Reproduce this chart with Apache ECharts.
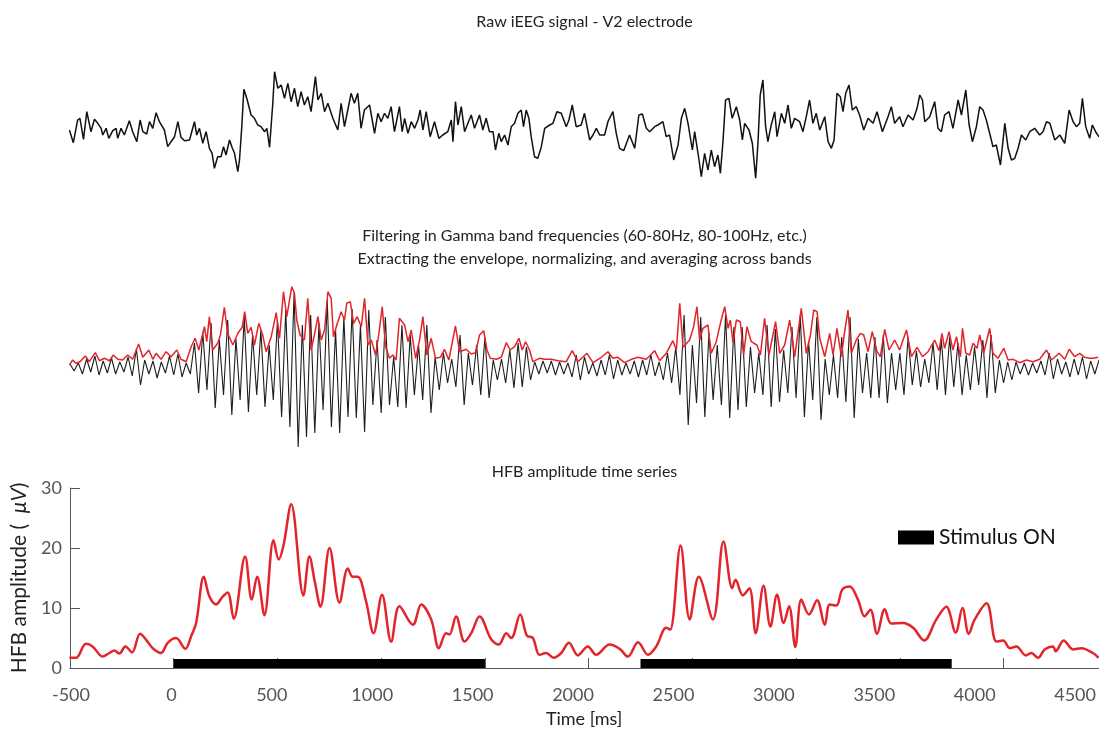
<!DOCTYPE html>
<html>
<head>
<meta charset="utf-8">
<script src="https://cdn.jsdelivr.net/npm/echarts@6/dist/echarts.min.js"></script>
<style>
  html, body { margin: 0; padding: 0; background: #fff; }
  #chart { width: 1099px; height: 737px; }
</style>
</head>
<body>
<div id="chart"></div>
<script>
// raw iEEG trace, [time ms, amplitude]
const rawSignal = [
  [-503,0],[-484,-12.7],[-463,10],[-452,11.7],[-435,-9.3],[-419,18.3],[-399,-1.7],[-382,10.7],[-366,6.7],[-350,1.7],
  [-342,-5],[-326,1.7],[-313,-8.3],[-294,-0.7],[-278,1.7],[-270,-8.3],[-254,1.7],[-238,-5],[-214,9.3],[-198,-1.7],
  [-178,-11.7],[-162,10],[-149,-1.7],[-130,-4],[-117,8.3],[-101,1.7],[-85,17.3],[-69,8.3],[-45,0],[-29,-16.7],
  [-13,-11.7],[4,-6.7],[20,8.3],[35,-7.3],[52,-10.7],[76,-10],[100,8.3],[111,-5],[124,1.7],[140,-13.3],
  [156,-1.7],[172,-18.3],[185,-23.3],[196,-38.3],[212,-26.7],[228,-26.7],[240,-16.7],[252,-25],[269,-10],[281,-17.3],
  [293,-23.3],[309,-41.7],[317,-30],[328,3.3],[338,40.7],[352,31.7],[373,15],[389,11.7],[405,5],[421,3.3],
  [438,-1.7],[449,1.7],[462,-17.3],[478,28.3],[486,58.3],[502,41.7],[518,45],[534,31.7],[550,46.7],[566,28.3],
  [582,41.7],[598,23.3],[614,38.3],[630,25],[646,33.3],[662,18.3],[683,53.3],[695,30],[711,36.7],[727,18.3],
  [743,26.7],[767,11.7],[791,0],[807,26.7],[823,3.3],[839,20],[855,36.7],[871,26.7],[887,36.7],[903,1.7],
  [919,20],[944,25],[968,-3.3],[984,16.7],[1000,8.3],[1016,16.7],[1032,11.7],[1048,23.3],[1064,-1.7],[1088,23.3],
  [1101,-1.7],[1113,11.7],[1129,-3.3],[1145,8.3],[1161,1.7],[1177,10],[1188,20],[1201,0],[1217,18.3],[1236,-6.7],
  [1257,8.3],[1278,-8.3],[1297,-5],[1321,-1.7],[1338,10],[1346,-11.7],[1358,28.3],[1370,5],[1386,23.3],[1402,-1.7],
  [1418,6.7],[1434,15],[1450,1.7],[1474,15],[1490,0],[1506,11.7],[1522,-1.7],[1539,-1.7],[1551,-20],[1567,-3.3],
  [1579,-11.7],[1595,-5],[1611,-15],[1627,3.3],[1643,6.7],[1659,16.7],[1675,20],[1686,3.3],[1699,20],[1712,11.7],
  [1723,-6.7],[1739,-26.7],[1755,-28.3],[1772,-16.7],[1788,1.7],[1812,5],[1828,6.7],[1847,18.3],[1868,16.7],[1892,3.3],
  [1905,10],[1921,25],[1940,3.3],[1964,5],[1980,16.7],[2005,-10],[2021,-5],[2037,1.7],[2053,-5],[2077,-5],
  [2093,8.3],[2117,18.3],[2133,-3.3],[2149,-18.3],[2169,-20.7],[2197,-5],[2222,-18.3],[2242,15],[2259,16],[2278,1.7],
  [2294,-1.7],[2318,3.3],[2334,5],[2358,8.3],[2374,-6.7],[2390,-5],[2410,-30],[2431,-15],[2447,11.7],[2463,21.7],
  [2479,6.7],[2500,-20],[2511,-1.7],[2532,-30],[2543,-46.7],[2559,-23.3],[2575,-40],[2591,-20],[2607,-36.7],[2623,-25],
  [2635,-43.3],[2648,-10],[2660,30],[2676,31.7],[2692,11.7],[2712,23.3],[2728,10],[2741,-10],[2752,6.7],[2773,0],
  [2789,-13.3],[2805,-48.3],[2816,-13.3],[2827,35],[2840,50],[2853,3.3],[2864,-11.7],[2880,5],[2897,18.3],[2908,-6.7],
  [2929,16.7],[2945,6.7],[2961,25],[2977,1.7],[2993,11.7],[3017,8.3],[3033,-1.7],[3049,13.3],[3065,30],[3081,6.7],
  [3097,16.7],[3114,0],[3138,13.3],[3154,-11.7],[3170,-18.3],[3183,-10],[3197,36.7],[3213,33.3],[3226,18.3],[3239,36.7],
  [3255,45],[3271,20],[3290,23.3],[3306,15],[3326,0],[3347,11.7],[3371,6.7],[3390,18.3],[3416,-1.7],[3443,13.3],
  [3459,23.3],[3475,6.7],[3499,13.3],[3515,3.3],[3540,15],[3564,10],[3583,21.7],[3596,35],[3609,30],[3620,8.3],
  [3644,13.3],[3668,28.3],[3684,1.7],[3700,-1.7],[3716,15],[3737,18.3],[3756,1.7],[3781,30],[3797,15],[3818,40],
  [3834,5],[3850,-11.7],[3869,3.3],[3885,23.3],[3901,20],[3917,10],[3933,-3.3],[3949,-16.7],[3965,-15],[3985,-35],
  [4006,6.7],[4022,-18.3],[4038,-30],[4054,-28.3],[4070,-18.3],[4086,-5],[4107,-10],[4126,-1.7],[4150,1.7],[4174,-5],
  [4190,-1.7],[4207,8.3],[4223,6.7],[4247,-10],[4271,-5],[4295,-13.3],[4316,20],[4335,8.3],[4351,3.3],[4367,6.7],
  [4380,31.7],[4396,3.3],[4415,-8.3],[4428,5],[4448,-3.3],[4460,-6.7]
];

// gamma-band envelope (red), [time ms, amplitude]
const gammaEnvelope = [
  [-503,0],[-487,5],[-471,1.7],[-452,3.3],[-426,9],[-407,3.3],[-378,12.3],[-358,4.3],[-334,6.7],[-310,4.3],
  [-291,10],[-270,5.7],[-246,5],[-222,10],[-198,5.7],[-169,21],[-149,7.7],[-120,15],[-101,5.7],[-85,11.7],
  [-61,5.7],[-37,13.3],[-13,8.3],[15,15],[35,5.7],[60,3.3],[84,18.3],[103,26.7],[121,15],[148,38.3],
  [159,23.3],[172,48.3],[188,15],[212,21.7],[225,30],[244,57.7],[260,31.7],[285,20],[309,31.7],[330,37.7],
  [342,53.3],[357,31.7],[373,37.7],[389,20],[410,41.7],[429,30],[445,13.3],[470,28.3],[494,52.3],[510,26.7],
  [529,73.3],[545,48.3],[569,78.3],[582,71.7],[593,45],[609,30],[630,25],[646,66.7],[662,15],[678,30],
  [695,48.3],[711,25],[727,35],[743,73.3],[759,66.7],[770,28.3],[786,40],[807,53.3],[823,45],[834,61.7],
  [851,63.3],[867,41.7],[884,48.3],[904,38.3],[920,66.7],[936,20],[952,25],[973,10],[989,31.7],[1005,58.3],
  [1021,18.3],[1040,6.7],[1056,10],[1072,5],[1088,46.7],[1113,40],[1129,23.3],[1145,35],[1166,6.7],[1185,25],
  [1201,48.3],[1220,10],[1241,26.7],[1262,6.7],[1285,7.7],[1305,15.7],[1326,5],[1358,39],[1378,13.3],[1410,15.7],
  [1434,11],[1455,12.3],[1474,30],[1494,34.3],[1510,15],[1526,6.7],[1555,5.7],[1579,7.7],[1603,22.3],[1622,15],
  [1643,18.3],[1664,26.7],[1680,15],[1696,23.3],[1715,15],[1731,3.3],[1763,6.7],[1788,5.7],[1820,5.7],[1852,4.3],
  [1892,3.3],[1921,14.3],[1948,3.3],[1992,11.7],[2021,2.3],[2061,7.7],[2093,13.3],[2117,6.7],[2141,7.7],[2173,2.3],
  [2206,5.7],[2238,7.7],[2278,5.7],[2318,14.3],[2342,4.3],[2374,11.7],[2406,24.3],[2423,15],[2439,61.7],[2455,17.7],
  [2487,25],[2506,38.3],[2522,58.3],[2535,25],[2551,36.7],[2575,40],[2591,11.7],[2615,23.3],[2635,41.7],[2656,58.3],
  [2672,36.7],[2683,45],[2696,22.3],[2712,45],[2731,43.3],[2747,10],[2763,38.3],[2784,23.3],[2811,20],[2828,10],
  [2848,46.7],[2869,10],[2901,43.3],[2921,11.7],[2945,20],[2969,45],[2993,8.3],[3025,56.7],[3049,11.7],[3069,30],
  [3085,55],[3101,53.3],[3114,26.7],[3138,8.3],[3162,31.7],[3178,10],[3197,36.7],[3218,8.3],[3234,33.3],[3250,55],
  [3266,11.7],[3290,25],[3310,31.7],[3326,30],[3347,13.3],[3367,33.3],[3390,13.3],[3406,8.3],[3427,35.7],[3448,15],
  [3475,25],[3499,15],[3532,35],[3556,8.3],[3583,17.7],[3609,8.3],[3636,13.3],[3668,25],[3689,14.3],[3703,31.7],
  [3716,16.7],[3737,33.3],[3756,15],[3773,28.3],[3792,8.3],[3802,36.7],[3818,11.7],[3837,10],[3853,21.7],[3872,16.7],
  [3885,30],[3904,11.7],[3933,36.7],[3949,11.7],[3973,6.7],[4001,16.7],[4022,5],[4046,5.7],[4078,2.3],[4110,5],
  [4142,3.3],[4174,5.7],[4207,15],[4231,5],[4268,11.7],[4295,5.7],[4316,15.7],[4343,8.3],[4367,11.7],[4391,7.7],
  [4415,6.7],[4431,6.7],[4456,7.7]
];

// filtered gamma oscillation: upper / lower swing every 40 ms from -500 ms
const gammaStart = -500;
const gammaStep = 40;
const gammaUpper = [
  1,2,6,9,4,7,3,8,16,5, 4,3,9,11,2,22,33,42,25,45,
  26,48,30,35,20,45,55,72,40,50, 42,65,35,48,56,40,55,25,48,8,
  40,30,20,40,8,12,6,30,12,20, 28,5,6,15,22,18,3,4,4,3,
  2,10,8,2,5,10,5,2,4,5, 10,3,12,18,50,20,48,32,20,50,
  38,38,18,12,40,36,15,38,50,24, 48,6,10,28,48,26,12,28,30,12,
  12,28,14,6,22,26,28,22,10,18, 25,30,5,3,3,2,2,4,12,6,
  3,6,8,4,5
];
const gammaLower = [
  -6,-9,-7,-10,-8,-9,-7,-11,-20,-9, -13,-8,-10,-12,-9,-28,-25,-43,-30,-50,
  -35,-47,-30,-42,-35,-52,-62,-82,-72,-68, -45,-62,-68,-52,-53,-67,-40,-48,-40,-42,
  -43,-30,-35,-48,-25,-18,-22,-40,-20,-30, -33,-15,-18,-23,-22,-15,-9,-8,-10,-9,
  -12,-15,-9,-11,-10,-14,-10,-9,-12,-10, -11,-15,-18,-30,-60,-38,-52,-35,-40,-53,
  -45,-42,-28,-30,-42,-37,-28,-33,-52,-35, -55,-30,-33,-37,-53,-28,-33,-33,-38,-25,
  -30,-20,-22,-18,-25,-30,-22,-30,-25,-20, -33,-28,-18,-15,-9,-10,-8,-10,-14,-9,
  -12,-10,-14,-9,-8
];

// HFB amplitude (uV), [time ms, value]
const hfbAmplitude = [
  [-503,1.7],[-471,1.7],[-423,4.05],[-391,3.6],[-342,1.9],[-310,2.5],[-286,2.9],[-262,2.4],[-233,3.6],[-201,2.6],
  [-162,5.7],[-133,4.7],[-101,3.3],[-61,2.5],[-29,4.2],[11,5.0],[56,3.2],[84,5.3],[108,7.5],[145,15.2],
  [172,11.9],[204,10.6],[236,11.9],[260,12.6],[289,8.2],[344,18.6],[376,11.4],[402,15.2],[437,8.8],[481,21.3],
  [506,18.1],[529,20.4],[566,27.3],[625,12.1],[654,18.6],[681,14.2],[707,10.2],[751,20.0],[799,10.9],[839,16.6],
  [863,15.2],[887,15.2],[927,11.1],[963,5.8],[1004,12.2],[1048,4.4],[1088,10.3],[1153,7.2],[1193,10.6],[1241,8.1],
  [1278,3.3],[1313,5.8],[1329,5.6],[1361,8.6],[1402,4.4],[1434,5.8],[1474,8.6],[1530,4.8],[1567,3.9],[1603,5.8],
  [1627,5.0],[1670,8.9],[1702,5.4],[1731,5.0],[1763,2.2],[1795,2.5],[1831,1.7],[1868,2.5],[1905,4.2],[1948,2.1],
  [1996,3.6],[2036,2.2],[2101,3.9],[2149,3.2],[2189,1.9],[2238,4.3],[2286,2.2],[2326,3.6],[2374,6.7],[2393,6.4],
  [2443,20.4],[2487,8.1],[2531,15.2],[2599,8.1],[2650,21.1],[2692,13.3],[2708,14.7],[2743,12.1],[2775,13.3],[2805,5.8],
  [2843,13.7],[2876,6.9],[2908,12.2],[2940,7.5],[2966,10.3],[2996,3.5],[3025,11.4],[3062,8.9],[3101,11.3],[3138,7.2],
  [3162,10.6],[3194,10.4],[3223,13.1],[3258,13.6],[3298,11.4],[3330,8.6],[3358,9.7],[3390,5.7],[3427,9.8],[3459,7.4],
  [3515,7.5],[3564,6.7],[3617,4.6],[3676,8.1],[3724,10.2],[3769,5.9],[3802,10.0],[3832,5.7],[3861,8.1],[3918,10.8],
  [3966,4.4],[3998,4.6],[4030,3.3],[4062,3.6],[4107,2.1],[4134,2.5],[4166,1.7],[4198,3.1],[4238,3.6],[4251,2.8],
  [4290,4.6],[4335,3.1],[4375,3.3],[4431,2.5],[4458,1.7]
];

// stimulus on periods [start, end] in ms
const stimulusOn = [[0, 1500], [2250, 3750]];

const xTicks = [-500, 0, 500, 1000, 1500, 2000, 2500, 3000, 3500, 4000];
const xLabels = [-500, 0, 500, 1000, 1500, 2000, 2500, 3000, 3500, 4000, 4500];

const FONT = 'Lato';
const RED = '#e2242b';

const gammaZigzag = [];
gammaUpper.forEach((u, i) => {
  const t = gammaStart + i * gammaStep;
  gammaZigzag.push([t, u], [t + gammaStep / 2, gammaLower[i]]);
});

const hiddenX = (gi) => ({ gridIndex: gi, type: 'value', min: -500, max: 4460, show: false });

const chart = echarts.init(document.getElementById('chart'));

chart.setOption({
  animation: false,
  textStyle: { fontFamily: FONT },
  grid: [
    { left: 70, right: 0, top: 60, height: 130 },
    { left: 70, right: 0, top: 270, height: 190 },
    { left: 70, right: 0, top: 488, height: 180 },
    { left: 71, right: 0, top: 488, height: 180 },
  ],
  xAxis: [
    hiddenX(0),
    hiddenX(1),
    {
      gridIndex: 2, type: 'value', min: -500, max: 4460, interval: 500,
      axisLine: { show: true, onZero: false, lineStyle: { color: '#555', width: 1 } },
      axisTick: { show: true, inside: true, length: 10, customValues: xTicks, lineStyle: { color: '#555' } },
      axisLabel: { show: false },
      splitLine: { show: false },
    },
    {
      gridIndex: 3, type: 'value', min: -500, max: 4610, interval: 500,
      axisLine: { show: false }, axisTick: { show: false }, splitLine: { show: false },
      axisLabel: {
        customValues: xLabels, fontSize: 18, color: '#555', margin: 18, fontFamily: FONT,
        formatter: (v) => String(v),
      },
      name: 'Time [ms]', nameLocation: 'middle', nameGap: 42,
      nameTextStyle: { fontSize: 18, color: '#222', fontFamily: FONT },
    },
  ],
  yAxis: [
    { gridIndex: 0, type: 'value', min: -60, max: 70, show: false },
    { gridIndex: 1, type: 'value', min: -95, max: 95, show: false },
    {
      gridIndex: 2, type: 'value', min: 0, max: 30, interval: 10,
      axisLine: { show: true, onZero: false, lineStyle: { color: '#555', width: 1 } },
      axisTick: { show: true, inside: true, length: 10, lineStyle: { color: '#555' } },
      axisLabel: { fontSize: 18, color: '#555', margin: 8, fontFamily: FONT },
      splitLine: { show: false },
      name: 'HFB amplitude (  {i|μV})', nameLocation: 'middle', nameGap: 36,
      nameTextStyle: {
        fontSize: 21, color: '#222', fontFamily: FONT,
        rich: { i: { fontSize: 21, fontStyle: 'italic', color: '#222', fontFamily: FONT } },
      },
    },
    { gridIndex: 3, type: 'value', min: 0, max: 30, show: false },
  ],
  legend: {
    data: [{ name: 'Stimulus ON', icon: 'rect' }],
    left: 893, top: 522, itemWidth: 36, itemHeight: 14, itemGap: 8,
    textStyle: { fontSize: 21, color: '#111', fontFamily: FONT },
  },
  graphic: [
    { type: 'text', x: 584.5, y: 22, style: { text: 'Raw iEEG signal - V2 electrode', font: `16px ${FONT}`, fill: '#222', textAlign: 'center', textVerticalAlign: 'middle' } },
    { type: 'text', x: 584.5, y: 236, style: { text: 'Filtering in Gamma band frequencies (60-80Hz, 80-100Hz, etc.)', font: `16px ${FONT}`, fill: '#222', textAlign: 'center', textVerticalAlign: 'middle' } },
    { type: 'text', x: 584.5, y: 259, style: { text: 'Extracting the envelope, normalizing, and averaging across bands', font: `16px ${FONT}`, fill: '#222', textAlign: 'center', textVerticalAlign: 'middle' } },
    { type: 'text', x: 584.5, y: 472, style: { text: 'HFB amplitude time series', font: `16px ${FONT}`, fill: '#222', textAlign: 'center', textVerticalAlign: 'middle' } },
  ],
  series: [
    {
      name: 'Raw iEEG', type: 'line', xAxisIndex: 0, yAxisIndex: 0, data: rawSignal,
      showSymbol: false, lineStyle: { color: '#111', width: 1.5 }, silent: true,
    },
    {
      name: 'Gamma filtered', type: 'line', xAxisIndex: 1, yAxisIndex: 1, data: gammaZigzag,
      showSymbol: false, lineStyle: { color: '#1e1e1e', width: 1.1 }, silent: true,
    },
    {
      name: 'Gamma envelope', type: 'line', xAxisIndex: 1, yAxisIndex: 1, data: gammaEnvelope,
      showSymbol: false, lineStyle: { color: RED, width: 1.5 }, silent: true,
    },
    {
      name: 'HFB', type: 'line', xAxisIndex: 2, yAxisIndex: 2, data: hfbAmplitude,
      showSymbol: false, smooth: 0.35, lineStyle: { color: RED, width: 2.5 }, silent: true,
    },
    {
      name: 'Stimulus ON', type: 'custom', xAxisIndex: 2, yAxisIndex: 2, data: stimulusOn,
      encode: { x: [0, 1] }, itemStyle: { color: '#000' }, z: 5,
      renderItem: (params, api) => {
        const p0 = api.coord([api.value(0), 0]);
        const p1 = api.coord([api.value(1), 1.5]);
        return {
          type: 'rect',
          shape: { x: p0[0], y: p1[1], width: p1[0] - p0[0], height: p0[1] - p1[1] },
          style: { fill: '#000' },
        };
      },
    },
  ],
});
</script>
</body>
</html>
